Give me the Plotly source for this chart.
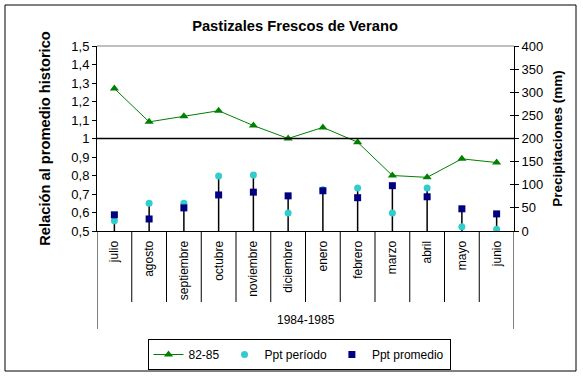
import plotly.graph_objects as go

months = ["julio", "agosto", "septiembre", "octubre", "noviembre", "diciembre",
          "enero", "febrero", "marzo", "abril", "mayo", "junio"]
serie_82_85 = [1.27, 1.09, 1.12, 1.15, 1.07, 1.00, 1.06, 0.98, 0.80, 0.79, 0.89, 0.87]
ppt_periodo = [22, 60, 60, 119, 121, 39, 89, 93, 39, 93, 9, 4]
ppt_promedio = [35, 26, 50, 78, 84, 76, 87, 72, 98, 74, 48, 37]
period_label = "1984-1985"

FONT = "Liberation Sans, Arial, sans-serif"
W, H = 583, 377
L, R, T, B = 97, 69, 46, 146
pw, ph = W - L - R, H - T - B

def px_x(x):
    return (x - L) / pw

def px_y(y):
    return (H - B - y) / ph

fig = go.Figure()

# drop lines from axis to the higher precipitation marker
dx, dy = [], []
for m, a, b in zip(months, ppt_periodo, ppt_promedio):
    dx += [m, m, None]
    dy += [0, max(a, b), None]
fig.add_trace(go.Scatter(x=dx, y=dy, yaxis="y2", mode="lines",
                         line=dict(color="black", width=1.5),
                         showlegend=False, hoverinfo="skip"))

fig.add_trace(go.Scatter(x=months, y=serie_82_85, name="82-85", mode="lines+markers",
                         line=dict(color="#008000", width=1),
                         marker=dict(symbol="triangle-up", size=8, color="#008000")))
fig.add_trace(go.Scatter(x=months, y=ppt_periodo, name="Ppt período", mode="markers",
                         yaxis="y2", marker=dict(symbol="circle", size=7, color="#33CCCC")))
fig.add_trace(go.Scatter(x=months, y=ppt_promedio, name="Ppt promedio", mode="markers",
                         yaxis="y2", marker=dict(symbol="square", size=7, color="#000080")))

shapes = []
# reference line at 1
shapes.append(dict(type="line", xref="paper", yref="y", x0=0, x1=1, y0=1, y1=1,
                   line=dict(color="black", width=1.5)))
# top border of plot area
shapes.append(dict(type="line", xref="paper", yref="paper", x0=0, x1=1, y0=1, y1=1,
                   line=dict(color="#808080", width=1)))
# category separators
n = len(months)
for i in range(n + 1):
    outer = i in (0, n)
    shapes.append(dict(type="line", xref="x", yref="paper", x0=i - 0.5, x1=i - 0.5,
                       y0=0, y1=px_y(329) if outer else px_y(302),
                       line=dict(color="black", width=1)))
# chart border
shapes.append(dict(type="rect", xref="paper", yref="paper",
                   x0=px_x(5), x1=px_x(576), y0=px_y(371), y1=px_y(5),
                   line=dict(color="black", width=1), fillcolor="rgba(0,0,0,0)", layer="below"))

fig.update_layout(
    width=W, height=H,
    margin=dict(l=L, r=R, t=T, b=B, autoexpand=False),
    paper_bgcolor="white", plot_bgcolor="white",
    separators=", ",
    font=dict(family=FONT, size=12, color="black"),
    title=dict(text="<b>Pastizales Frescos de Verano</b>", x=295 / W, xanchor="center",
               y=1 - 26 / H, yanchor="middle", font=dict(size=14.7, family=FONT)),
    xaxis=dict(type="category", categoryorder="array", categoryarray=months,
               range=[-0.5, n - 0.5], tickangle=-90, showgrid=False, zeroline=False,
               showline=True, linecolor="black", linewidth=1, ticks="",
               tickfont=dict(size=12), ticklabelstandoff=4),
    yaxis=dict(range=[0.5, 1.5], dtick=0.1, showgrid=False, zeroline=False,
               showline=True, linecolor="black", linewidth=1, ticks="outside",
               ticklen=4, tickcolor="black", tickfont=dict(size=13),
               title=dict(text="<b>Relación al promedio historico</b>",
                          font=dict(size=14.7), standoff=17)),
    yaxis2=dict(range=[0, 400], dtick=50, overlaying="y", side="right", anchor="x",
                showgrid=False, zeroline=False, showline=True, linecolor="black",
                linewidth=1, ticks="outside", ticklen=4, tickcolor="black",
                tickfont=dict(size=13),
                title=dict(text="<b>Precipitaciones (mm)</b>", font=dict(size=13.5), standoff=10)),
    yaxis3=dict(range=[0, 400], dtick=50, overlaying="y", side="right", anchor="x",
                showgrid=False, zeroline=False, showline=False, ticks="inside",
                ticklen=4, tickcolor="black", showticklabels=False),
    legend=dict(orientation="h", xref="container", yref="container",
                x=299 / W, xanchor="center", y=1 - 339 / H, yanchor="top",
                bordercolor="black", borderwidth=1, bgcolor="white",
                font=dict(size=12), itemwidth=30, tracegroupgap=0),
    shapes=shapes,
    annotations=[dict(text=period_label, xref="paper", yref="paper", x=0.5,
                      y=px_y(320), xanchor="center", yanchor="middle",
                      showarrow=False, font=dict(size=12))],
    showlegend=True,
)
fig.add_trace(go.Scatter(x=[months[0]], y=[None], yaxis="y3", showlegend=False,
                         hoverinfo="skip"))

fig.write_html("out.html", config={"displayModeBar": False},
               post_script="document.body.style.margin='0';document.body.style.padding='0';")
